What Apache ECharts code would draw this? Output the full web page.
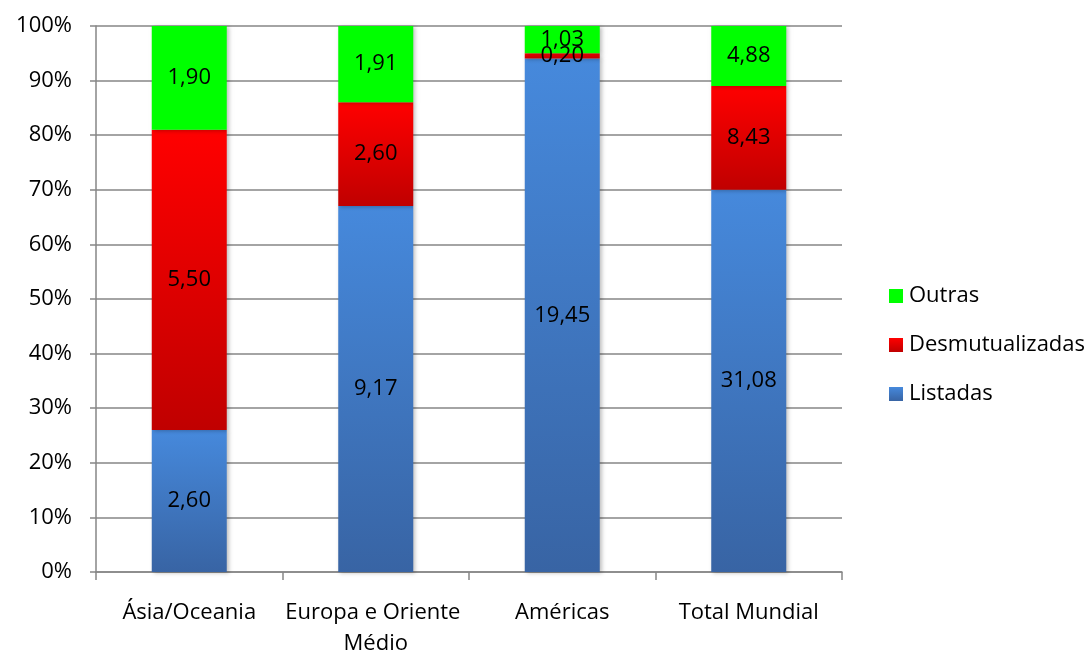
<!DOCTYPE html>
<html><head><meta charset="utf-8">
<script src="https://cdn.jsdelivr.net/npm/echarts@6/dist/echarts.min.js"></script>
<style>html,body{margin:0;padding:0;background:#fff}#c{width:1092px;height:655px}</style>
</head><body><div id="c"></div>
<script>
const categories = ['Ásia/Oceania', 'Europa e Oriente Médio', 'Américas', 'Total Mundial'];
const listadas = [2.60, 9.17, 19.45, 31.08];
const desmutualizadas = [5.50, 2.60, 0.20, 8.43];
const outras = [1.90, 1.91, 1.03, 4.88];
const yTicks = [0, 10, 20, 30, 40, 50, 60, 70, 80, 90, 100];

const totals = categories.map((_, i) => listadas[i] + desmutualizadas[i] + outras[i]);
const toData = arr => arr.map((v, i) => ({ value: v / totals[i] * 100, raw: v }));
const FONT = 'Open Sans';
const FS = 22;
const fmt = p => p.data.raw.toFixed(2).replace('.', ',');
const grad = (a, b) => new echarts.graphic.LinearGradient(0, 0, 0, 1, [{offset: 0, color: a}, {offset: 1, color: b}]);
const shadow = {shadowBlur: 4, shadowColor: 'rgba(0,0,0,0.25)', shadowOffsetX: 2, shadowOffsetY: 1};
const label = {show: true, position: 'inside', formatter: fmt, color: '#000', fontFamily: FONT, fontSize: FS};

const chart = echarts.init(document.getElementById('c'));
chart.setOption({
  animation: false,
  grid: {left: 96, right: 250, top: 26, bottom: 83, containLabel: false, outerBoundsMode: 'none'},
  legend: {
    orient: 'vertical', left: 884, top: 280, itemGap: 27, itemWidth: 14, itemHeight: 14,
    icon: 'rect', data: ['Outras', 'Desmutualizadas', 'Listadas'],
    textStyle: {fontFamily: FONT, fontSize: FS, color: '#000', padding: [0, 0, 0, 1]}
  },
  xAxis: {
    type: 'category', data: categories,
    axisLine: {lineStyle: {color: '#868686', width: 1.5}},
    axisTick: {show: true, interval: 0, length: 8, lineStyle: {color: '#868686', width: 1.5}},
    axisLabel: {interval: 0, fontFamily: FONT, fontSize: FS, color: '#000', margin: 25, width: 182, overflow: 'break', lineHeight: 31}
  },
  yAxis: {
    type: 'value', min: 0, max: 100, interval: 10,
    axisLine: {show: true, lineStyle: {color: '#868686', width: 1.5}},
    axisTick: {show: true, length: 6, lineStyle: {color: '#868686', width: 1.5}},
    splitLine: {lineStyle: {color: '#868686', width: 1.5}},
    axisLabel: {fontFamily: FONT, fontSize: FS, color: '#000', margin: 24,
      formatter: v => yTicks.includes(v) ? v + '%' : ''}
  },
  series: [
    {name: 'Listadas', type: 'bar', stack: 't', barWidth: 75, data: toData(listadas),
     itemStyle: Object.assign({color: grad('#4689dc', '#3864a4')}, shadow), label},
    {name: 'Desmutualizadas', type: 'bar', stack: 't', barWidth: 75, data: toData(desmutualizadas),
     itemStyle: Object.assign({color: grad('#ff0000', '#c00000')}, shadow), label},
    {name: 'Outras', type: 'bar', stack: 't', barWidth: 75, data: toData(outras),
     itemStyle: Object.assign({color: '#00ff00'}, shadow), label}
  ]
});
</script></body></html>
